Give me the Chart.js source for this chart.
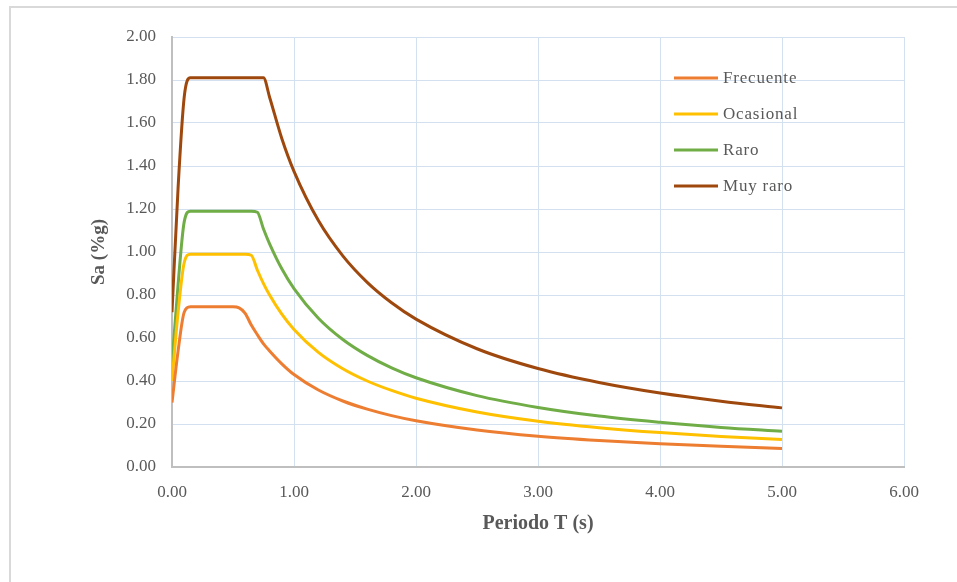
<!DOCTYPE html>
<html>
<head>
<meta charset="utf-8">
<script src="https://cdn.jsdelivr.net/npm/chart.js@4.4.1/dist/chart.umd.min.js"></script>
<style>
  html, body { margin: 0; padding: 0; background: #fff; overflow: hidden; }
  #frame { position: absolute; left: 9px; top: 6px; width: 970px; height: 600px; border: 2px solid #d9d9d9; }
  #wrap { position: absolute; left: 0; top: 0; width: 957px; height: 582px; }
</style>
</head>
<body>
<div id="frame"></div>
<div id="wrap"><canvas id="spectra"></canvas></div>
<script>
// periodo T (s)
const periods = [0, 0.05, 0.10, 0.15, 0.20, 0.30, 0.40, 0.50, 0.55, 0.60, 0.65, 0.70, 0.75, 0.80, 0.90, 1.00,
                 1.20, 1.40, 1.60, 1.80, 2.00, 2.50, 3.00, 3.50, 4.00, 4.50, 5.00];

// Sa (%g)
const frecuente = [0.30, 0.54, 0.72, 0.745, 0.745, 0.745, 0.745, 0.745, 0.74, 0.715, 0.66, 0.615, 0.573, 0.54, 0.48, 0.43,
                   0.358, 0.307, 0.269, 0.239, 0.215, 0.172, 0.143, 0.123, 0.108, 0.096, 0.086];
const ocasional = [0.40, 0.72, 0.95, 0.99, 0.99, 0.99, 0.99, 0.99, 0.99, 0.99, 0.985, 0.915, 0.853, 0.80, 0.711, 0.64,
                   0.533, 0.457, 0.40, 0.356, 0.32, 0.256, 0.213, 0.183, 0.16, 0.142, 0.128];
const raro      = [0.48, 0.85, 1.14, 1.19, 1.19, 1.19, 1.19, 1.19, 1.19, 1.19, 1.19, 1.185, 1.107, 1.038, 0.922, 0.83,
                   0.692, 0.593, 0.519, 0.461, 0.415, 0.332, 0.277, 0.237, 0.208, 0.184, 0.166];
const muyRaro   = [0.72, 1.30, 1.72, 1.81, 1.81, 1.81, 1.81, 1.81, 1.81, 1.81, 1.81, 1.81, 1.81, 1.72, 1.528, 1.375,
                   1.146, 0.982, 0.859, 0.764, 0.688, 0.55, 0.458, 0.393, 0.344, 0.306, 0.275];

const seriesNames = ['Frecuente', 'Ocasional', 'Raro', 'Muy raro'];
const seriesValues = [frecuente, ocasional, raro, muyRaro];
const colors = ['#ED7D31', '#FFC000', '#70AD47', '#9E480E'];

const serif = '"Liberation Serif", "Times New Roman", serif';
const textColor = '#595959';

// legend drawn inside the plot, top right
const insideLegend = {
  id: 'insideLegend',
  afterDraw(chart) {
    const ctx = chart.ctx;
    ctx.save();
    ctx.font = '17px ' + serif;
    ctx.textBaseline = 'middle';
    if ('letterSpacing' in ctx) ctx.letterSpacing = '0.8px';
    chart.data.datasets.forEach((ds, i) => {
      const y = 78 + i * 36;
      ctx.strokeStyle = ds.borderColor;
      ctx.lineWidth = 3;
      ctx.beginPath();
      ctx.moveTo(674, y);
      ctx.lineTo(718, y);
      ctx.stroke();
      ctx.fillStyle = textColor;
      ctx.fillText(ds.label, 723, y + 1);
    });
    ctx.restore();
  }
};

new Chart(document.getElementById('spectra'), {
  type: 'line',
  data: {
    datasets: seriesNames.map((name, i) => ({
      label: name,
      data: periods.map((t, j) => ({ x: t, y: seriesValues[i][j] })),
      borderColor: colors[i],
      backgroundColor: colors[i],
      borderWidth: 3,
      pointRadius: 0,
      cubicInterpolationMode: 'monotone',
      fill: false
    }))
  },
  options: {
    responsive: true,
    maintainAspectRatio: false,
    animation: false,
    layout: { padding: { left: 84, right: 53, top: 37, bottom: 42 } },
    plugins: {
      legend: { display: false },
      tooltip: { enabled: false }
    },
    scales: {
      x: {
        type: 'linear',
        min: 0,
        max: 6,
        afterFit(scale) { scale.height = 73; },
        ticks: {
          stepSize: 1,
          padding: 15,
          color: textColor,
          font: { family: serif, size: 17 },
          callback: v => Number(v).toFixed(2)
        },
        grid: { color: '#d3e0f0', lineWidth: 1, drawTicks: false },
        border: { color: '#bfbfbf', width: 2 },
        title: {
          display: true,
          text: 'Periodo T (s)',
          color: textColor,
          font: { family: serif, size: 20, weight: 'bold' }
        }
      },
      y: {
        min: 0,
        max: 2,
        afterFit(scale) { scale.width = 88; },
        ticks: {
          stepSize: 0.2,
          padding: 16,
          color: textColor,
          font: { family: serif, size: 17 },
          callback: v => Number(v).toFixed(2)
        },
        grid: { color: '#d3e0f0', lineWidth: 1, drawTicks: false },
        border: { color: '#bfbfbf', width: 2 },
        title: {
          display: true,
          text: 'Sa (%g)',
          color: textColor,
          font: { family: serif, size: 19, weight: 'bold' }
        }
      }
    }
  },
  plugins: [insideLegend]
});
</script>
</body>
</html>
